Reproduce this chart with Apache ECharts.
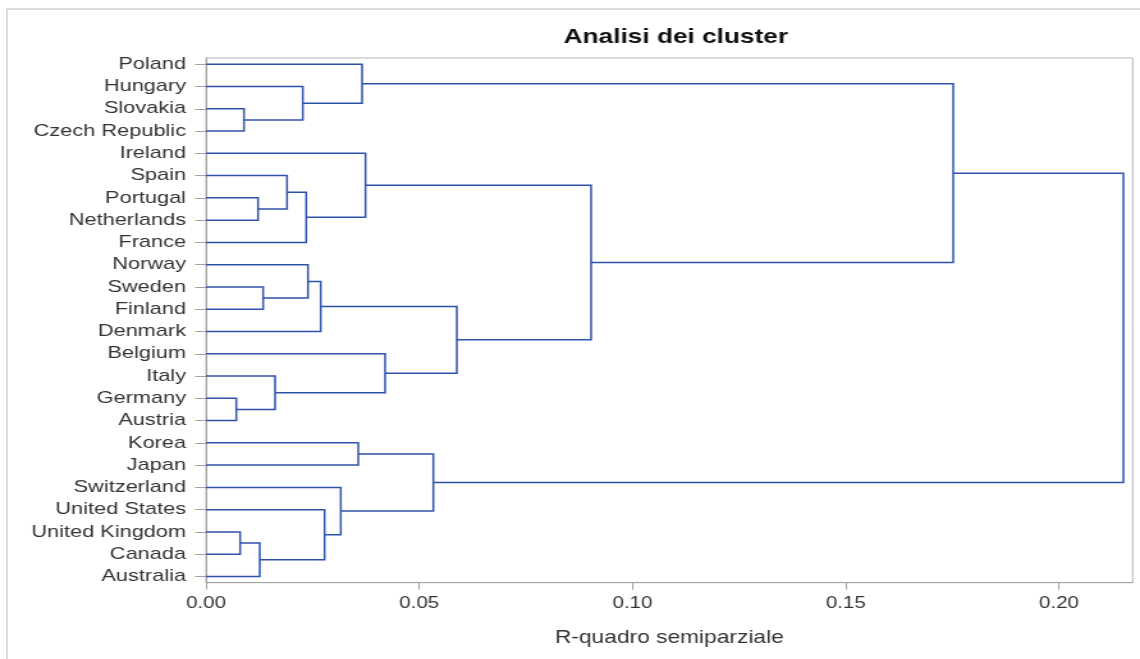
<!DOCTYPE html>
<html><head><meta charset="utf-8">
<script src="https://cdn.jsdelivr.net/npm/echarts@6/dist/echarts.min.js"></script>
<style>
html,body{margin:0;padding:0;background:#fff;overflow:hidden;width:1140px;height:659px;}
#frame{position:absolute;left:6px;top:8px;width:1200px;height:700px;border:2px solid #dcdcdc;}
#chart{position:absolute;left:0;top:0;width:891px;height:659px;transform:scaleX(1.2795);transform-origin:0 0;}
</style></head><body>
<div id="frame"></div><div id="chart"></div>
<script>
// Leaves (top to bottom)
const leaves = ['Poland','Hungary','Slovakia','Czech Republic','Ireland','Spain','Portugal','Netherlands','France','Norway','Sweden','Finland','Denmark','Belgium','Italy','Germany','Austria','Korea','Japan','Switzerland','United States','United Kingdom','Canada','Australia'];
// Merges: children are leaf names or indices of earlier merges
const mergeLeft  = ['Germany','United Kingdom','Slovakia','Portugal',1,'Sweden','Italy','Spain','Hungary',7,'Norway',10,'United States','Switzerland','Korea','Poland','Ireland','Belgium',14,11,16,15,21];
const mergeRight = ['Austria','Canada','Czech Republic','Netherlands','Australia','Finland',0,3,2,'France',5,'Denmark',4,12,'Japan',8,9,6,13,17,19,20,18];
const mergeHeight = [0.0071,0.0080,0.0089,0.0122,0.0126,0.0134,0.0162,0.0190,0.0227,0.0235,0.0239,0.0269,0.0278,0.0316,0.0357,0.0366,0.0374,0.0420,0.0533,0.0588,0.0903,0.1752,0.2151];
const xTicks = [0, 0.05, 0.10, 0.15, 0.20];

const nodes = [];
function ref(c){ return typeof c === 'number' ? nodes[c] : {y: leaves.indexOf(c), h: 0}; }
const segData = mergeHeight.map((h, k) => {
  const a = ref(mergeLeft[k]), b = ref(mergeRight[k]);
  nodes[k] = {y: (a.y + b.y) / 2, h: h};
  return [h, a.y, b.y, a.h, b.h];
});

const chart = echarts.init(document.getElementById('chart'));
const font = "'Liberation Sans', Arial, sans-serif";
const axisGray = '#a3a3a3';
chart.setOption({
  animation: false,
  backgroundColor: 'transparent',
  title: {
    text: 'Analisi dei cluster', left: 523.2, top: 22, textAlign: 'center',
    textStyle: {fontFamily: font, fontSize: 20.5, fontWeight: 'bold', color: '#111'}
  },
  grid: {left: 161, right: 5.7, top: 58, bottom: 76.3, show: true, borderColor: '#b4b4b4', borderWidth: 1, containLabel: false},
  xAxis: {
    type: 'value', min: 0, max: 0.2173,
    name: 'R-quadro semiparziale', nameLocation: 'middle', nameGap: 46,
    nameTextStyle: {fontFamily: font, fontSize: 17.8, color: '#333'},
    axisLine: {show: true, onZero: false, lineStyle: {color: axisGray}},
    axisTick: {show: true, length: 7, customValues: xTicks, lineStyle: {color: axisGray}},
    axisLabel: {customValues: xTicks, margin: 13, fontFamily: font, fontSize: 16, color: '#333', formatter: v => Number(v).toFixed(2)},
    splitLine: {show: false}
  },
  yAxis: {
    type: 'value', inverse: true, min: -0.28, max: 23.28,
    axisLine: {show: true, onZero: false, lineStyle: {color: axisGray}},
    axisTick: {show: true, length: 8.6, customValues: leaves.map((_, i) => i), lineStyle: {color: axisGray}},
    axisLabel: {customValues: leaves.map((_, i) => i), margin: 15.6, fontFamily: font, fontSize: 17, color: '#333', formatter: v => leaves[Math.round(v)]},
    splitLine: {show: false}
  },
  series: [{
    type: 'custom',
    data: segData,
    encode: {x: [0, 3, 4], y: [1, 2]},
    clip: false,
    renderItem: function (params, api) {
      const h = api.value(0), yl = api.value(1), yr = api.value(2), hl = api.value(3), hr = api.value(4);
      return {
        type: 'polyline',
        shape: {points: [api.coord([hl, yl]), api.coord([h, yl]), api.coord([h, yr]), api.coord([hr, yr])]},
        style: {stroke: '#2f52ab', lineWidth: 1.5, fill: null}
      };
    }
  }]
});
</script>
</body></html>
